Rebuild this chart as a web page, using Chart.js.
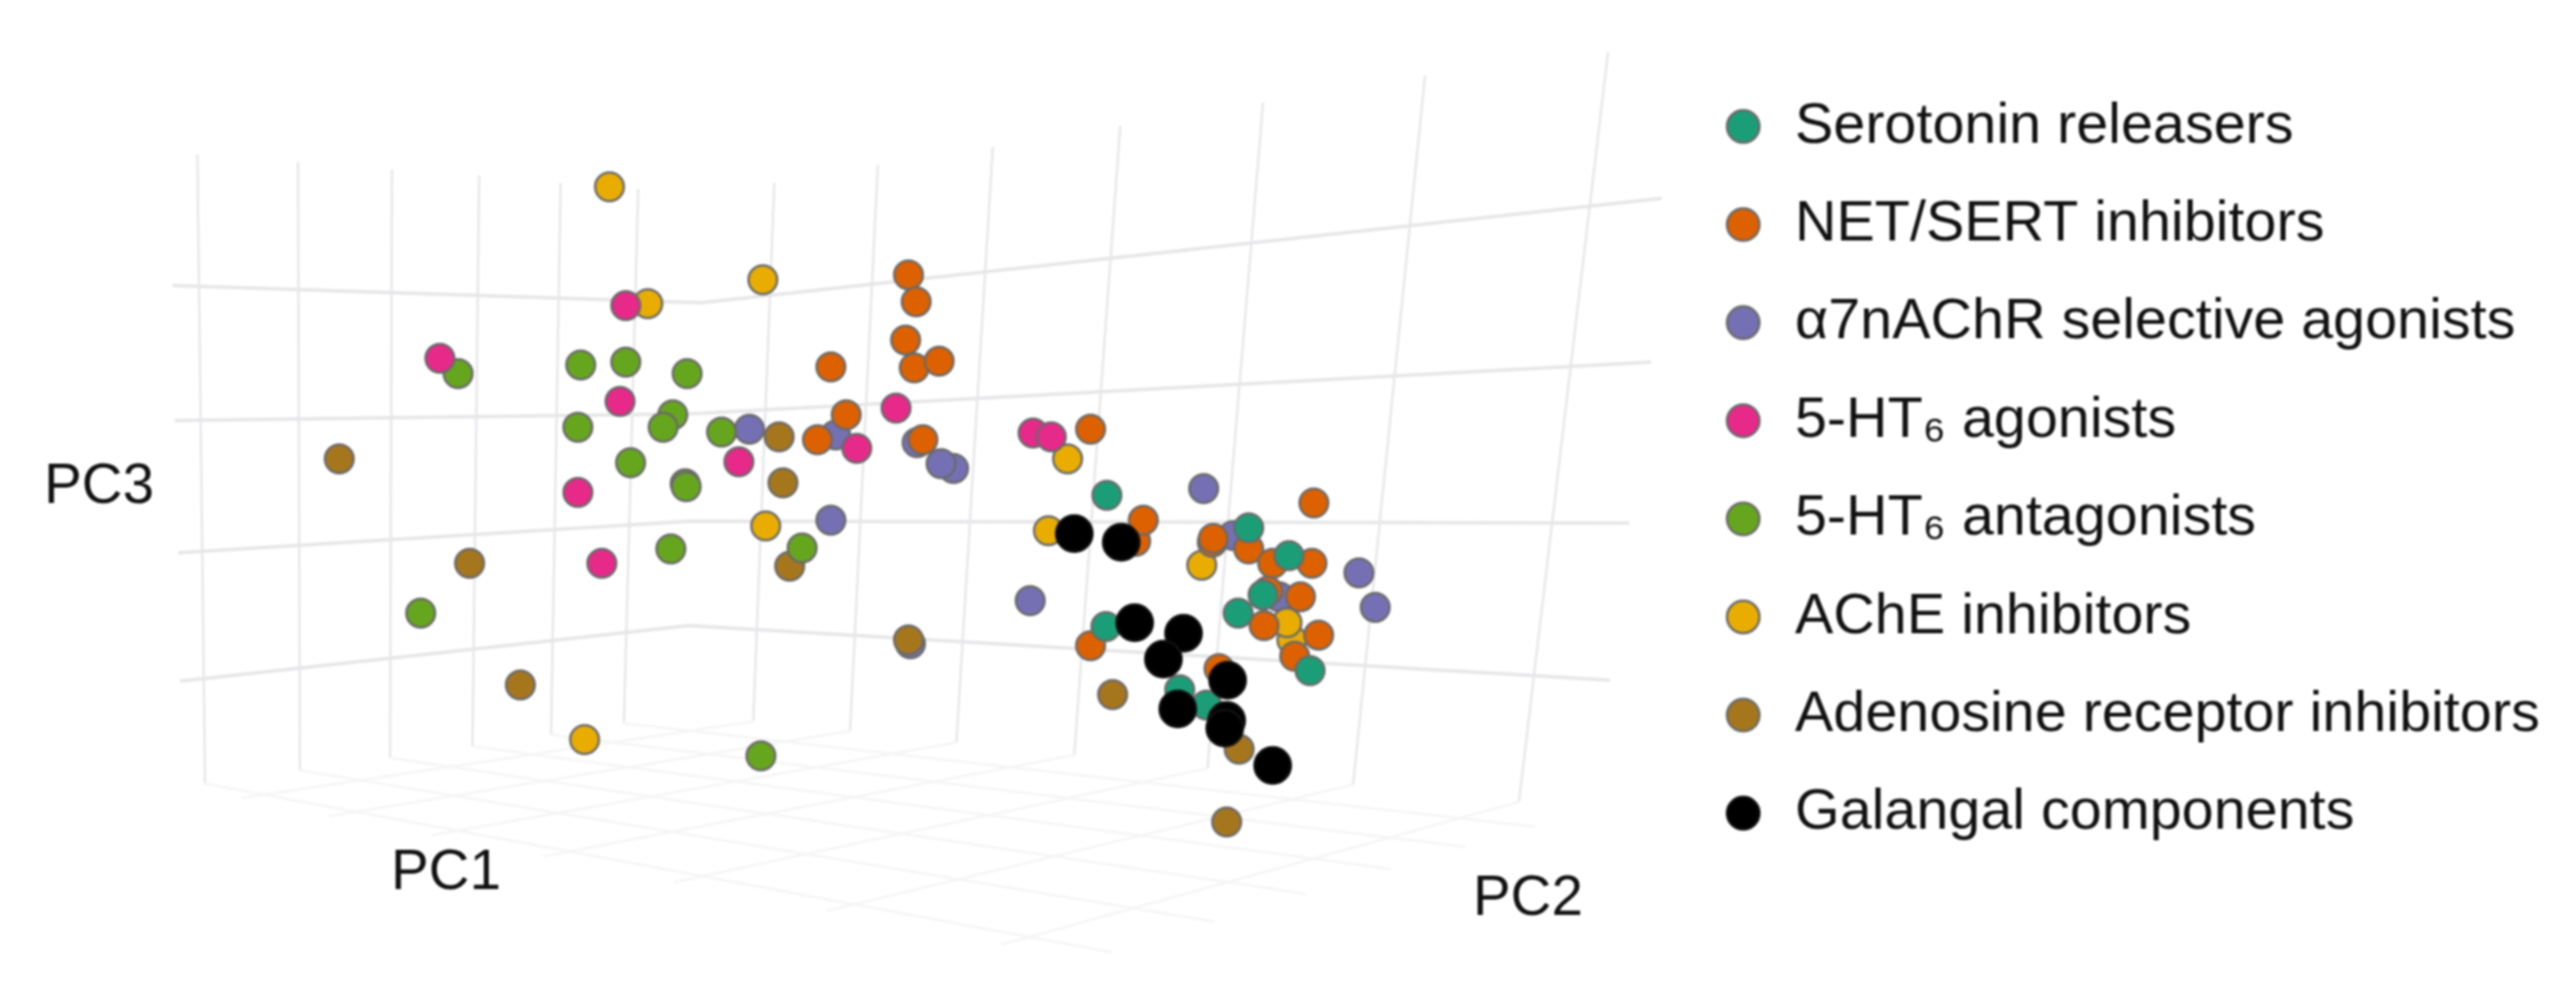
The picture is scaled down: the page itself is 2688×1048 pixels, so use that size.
<!DOCTYPE html>
<html>
<head>
<meta charset="utf-8">
<style>
html,body{margin:0;padding:0;background:#fff}
canvas{display:block;filter:blur(0.9px)}
</style>
<script src="https://cdn.jsdelivr.net/npm/chart.js@4/dist/chart.umd.js"></script>
</head>
<body>
<canvas id="c" width="2688" height="1048"></canvas>
<script>
// Projected (screen-plane) PC coordinates
const serotoninReleasers = [[1155,517],[1303,551],[1345,580],[1318,621],[1292,640],[1154,654],[1367,700],[1231,720],[1259,736]];
const netSertInhibitors = [[948,287],[956,315],[945,355],[954,384],[980,377],[867,383],[853,459],[883,433],[963,459],[1138,448],[1185,565],[1193,543],[1265,566],[1266,562],[1303,573],[1328,588],[1369,588],[1371,525],[1323,617],[1357,623],[1319,653],[1376,663],[1351,685],[1138,674],[1272,698]];
const a7nAChRAgonists = [[782,448],[867,543],[872,454],[957,462],[995,489],[982,484],[1075,627],[1256,510],[1287,559],[1335,623],[1418,598],[1435,634],[950,672]];
const ht6Agonists = [[653,319],[459,374],[647,419],[771,482],[603,514],[628,588],[894,468],[935,426],[1078,452],[1097,456]];
const ht6Antagonists = [[478,390],[606,381],[653,378],[717,390],[603,446],[702,433],[692,446],[753,451],[658,483],[715,505],[716,508],[700,573],[837,572],[439,640],[794,789]];
const acheInhibitors = [[636,195],[676,317],[796,292],[799,549],[1114,479],[1094,554],[1254,590],[1348,668],[1343,650],[610,772]];
const adenosineInhibitors = [[354,479],[490,588],[813,456],[817,504],[824,591],[948,668],[543,715],[1161,725],[1293,782],[1280,858]];
const galangalComponents = [[1121,557],[1170,566],[1184,650],[1235,661],[1214,688],[1281,710],[1229,740],[1280,752],[1278,760],[1328,799]];

const seriesLabels = ['Serotonin releasers','NET/SERT inhibitors','α7nAChR selective agonists','5-HT₆ agonists','5-HT₆ antagonists','AChE inhibitors','Adenosine receptor inhibitors','Galangal components'];
const seriesColors = ['#1B9E77','#DD6100','#7570B3','#E7298A','#66A61E','#E9AD02','#A6761D','#000000'];
const seriesLayer = [1,3,7,2,5,4,6,0];

// Grid of the 3D scene, as projected end points
const wallVerticals = [
 [[206,161],[214,818]],[[311,169],[313,804]],[[409,177],[407,791]],[[500,183],[493,779]],[[585,191],[575,767]],[[666,197],[651,755]],
 [[808,191],[786,753]],[[916,172],[887,763]],[[1036,153],[998,775]],[[1169,131],[1121,788]],[[1318,107],[1260,802]],[[1487,79],[1412,819]],[[1678,54],[1585,837]]
];
const wallHorizontals = [
 [[180,298],[732,316],[1734,207]],
 [[182,439],[720,432],[1723,378]],
 [[186,577],[721,544],[1700,546]],
 [[188,711],[719,653],[1680,710]]
];
const floorLines = [
 [[214,818],[1160,994]],[[313,804],[1267,962]],[[407,791],[1363,933]],[[493,779],[1451,907]],[[575,767],[1530,884]],[[651,755],[1601,863]],
 [[786,753],[252,833]],[[887,763],[343,852]],[[998,775],[450,872]],[[1121,788],[567,894]],[[1260,802],[703,921]],[[1412,819],[862,951]],[[1585,837],[1045,986]]
];
const axisTitles = [['PC3',46,525],['PC1',408,928],['PC2',1537,955]];

const toPts = a => a.map(p => ({x:p[0],y:p[1]}));
const seriesData = [serotoninReleasers,netSertInhibitors,a7nAChRAgonists,ht6Agonists,ht6Antagonists,acheInhibitors,adenosineInhibitors,galangalComponents];
const datasets = seriesData.map((d,i) => ({
  label: seriesLabels[i], data: toPts(d), order: seriesLayer[i],
  backgroundColor: seriesColors[i], pointBackgroundColor: seriesColors[i],
  borderColor: i===7 ? '#111111' : '#6a6a6a', pointBorderColor: i===7 ? '#111111' : '#6a6a6a',
  pointBorderWidth: 2.5, borderWidth: 2.5, pointStyle:'circle',
  pointRadius: i===7 ? 19 : 15, showLine:false
}));
const addLines = (lines,color,width) => lines.forEach(l => datasets.push({
  label:'', data:toPts(l), showLine:true, borderColor:color, borderWidth:width, pointRadius:0, order:100, tension:0
}));
addLines(floorLines,'#f5f5f5',2.5);
addLines(wallVerticals,'#e7e7eb',2.5);
addLines(wallHorizontals,'#e6e6e8',3.5);

const placeLegend = {
  id:'placeLegend',
  beforeDraw(chart){
    const l = chart.legend;
    l.left = 1752.6; l.right = 2688; l.top = 59.6; l.bottom = 1048;
  }
};
const axisTitlePlugin = {
  id:'axisTitlePlugin',
  afterDatasetsDraw(chart){
    const {ctx,scales:{x,y}} = chart;
    ctx.save();
    ctx.fillStyle='#111';
    ctx.font='59px "Liberation Sans", Arial, sans-serif';
    ctx.textAlign='left'; ctx.textBaseline='alphabetic';
    axisTitles.forEach(t => ctx.fillText(t[0],x.getPixelForValue(t[1]),y.getPixelForValue(t[2])));
    ctx.restore();
  }
};

new Chart(document.getElementById('c'),{
  type:'scatter',
  data:{datasets},
  plugins:[placeLegend,axisTitlePlugin],
  options:{
    responsive:false, animation:false, devicePixelRatio:1,
    layout:{padding:0,autoPadding:false},
    scales:{
      x:{type:'linear',min:0,max:2688,display:false},
      y:{type:'linear',min:0,max:1048,reverse:true,display:false}
    },
    plugins:{
      tooltip:{enabled:false},
      title:{display:false},
      legend:{
        display:true, position:'chartArea', align:'start',
        labels:{
          usePointStyle:true, boxWidth:48, boxHeight:24, padding:42.4,
          color:'#111', font:{family:'"Liberation Sans", Arial, sans-serif',size:60},
          filter:item => item.text !== '',
          sort:(a,b) => a.datasetIndex - b.datasetIndex
        }
      }
    }
  }
});
</script>
</body>
</html>
